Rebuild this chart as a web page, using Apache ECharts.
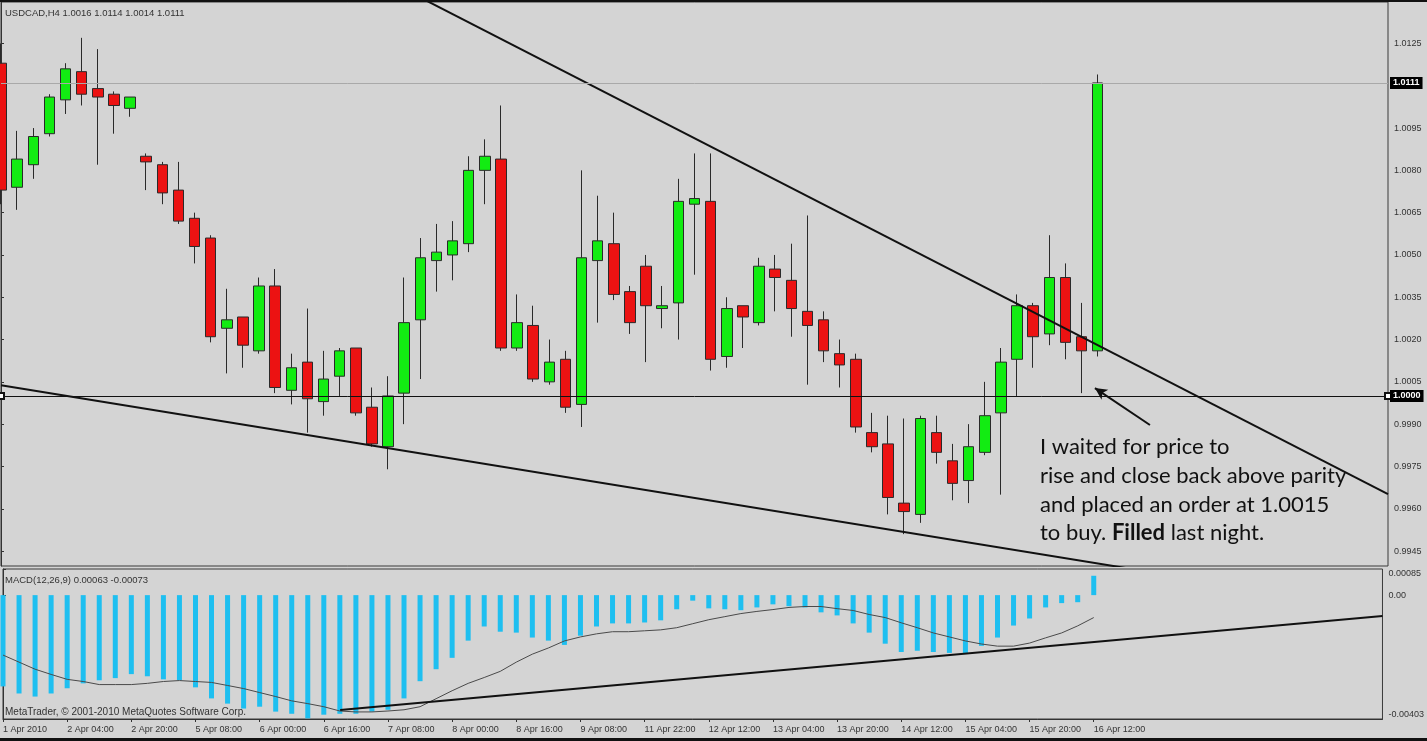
<!DOCTYPE html>
<html><head><meta charset="utf-8">
<script src="https://cdn.jsdelivr.net/npm/echarts@6/dist/echarts.min.js"></script>
<style>html,body{margin:0;padding:0;background:#d4d4d4;overflow:hidden}#c{width:1427px;height:741px;}</style>
</head><body><div id="c"></div>
<script>
// ---- data (USDCAD H4) ----
const times = ['1 Apr 2010','1 Apr 16:00','1 Apr 20:00','2 Apr 00:00','2 Apr 04:00','2 Apr 08:00','2 Apr 12:00','2 Apr 16:00','2 Apr 20:00',
 '4 Apr 20:00','5 Apr 00:00','5 Apr 04:00','5 Apr 08:00','5 Apr 12:00','5 Apr 16:00','5 Apr 20:00',
 '6 Apr 00:00','6 Apr 04:00','6 Apr 08:00','6 Apr 12:00','6 Apr 16:00','6 Apr 20:00',
 '7 Apr 00:00','7 Apr 04:00','7 Apr 08:00','7 Apr 12:00','7 Apr 16:00','7 Apr 20:00',
 '8 Apr 00:00','8 Apr 04:00','8 Apr 08:00','8 Apr 12:00','8 Apr 16:00','8 Apr 20:00',
 '9 Apr 00:00','9 Apr 04:00','9 Apr 08:00','9 Apr 12:00','9 Apr 16:00','9 Apr 20:00',
 '11 Apr 22:00','12 Apr 00:00','12 Apr 04:00','12 Apr 08:00','12 Apr 12:00','12 Apr 16:00','12 Apr 20:00',
 '13 Apr 00:00','13 Apr 04:00','13 Apr 08:00','13 Apr 12:00','13 Apr 16:00','13 Apr 20:00',
 '14 Apr 00:00','14 Apr 04:00','14 Apr 08:00','14 Apr 12:00','14 Apr 16:00','14 Apr 20:00',
 '15 Apr 00:00','15 Apr 04:00','15 Apr 08:00','15 Apr 12:00','15 Apr 16:00','15 Apr 20:00',
 '16 Apr 00:00','16 Apr 04:00','16 Apr 08:00','16 Apr 12:00'];
const opens = [1.0118,1.0074,1.0082,1.0093,1.0105,1.0115,1.0109,1.0107,1.0102,1.0085,
 1.0082,1.0073,1.0063,1.0056,1.0024,1.0028,1.0016,1.0039,1.0002,1.0012,
 0.9998,1.0007,1.0017,0.9996,0.9982,1.0001,1.0027,1.0048,1.0050,1.0054,
 1.0080,1.0084,1.0017,1.0025,1.0005,1.0013,0.9997,1.0048,1.0054,1.0037,
 1.0046,1.0031,1.0033,1.0068,1.0069,1.0014,1.0032,1.0026,1.0045,1.0041,
 1.0030,1.0027,1.0015,1.0013,0.9987,0.9983,0.9962,0.9958,0.9987,0.9977,
 0.9970,0.9980,0.9994,1.0013,1.0032,1.0022,1.0042,1.0021,1.0016];
const closes = [1.0073,1.0084,1.0092,1.0106,1.0116,1.0107,1.0106,1.0103,1.0106,1.0083,
 1.0072,1.0062,1.0053,1.0021,1.0027,1.0018,1.0039,1.0003,1.0010,0.9999,
 1.0006,1.0016,0.9994,0.9983,1.0000,1.0026,1.0049,1.0051,1.0055,1.0080,
 1.0085,1.0017,1.0026,1.0006,1.0012,0.9996,1.0049,1.0055,1.0036,1.0026,
 1.0032,1.0032,1.0069,1.0070,1.0013,1.0031,1.0028,1.0046,1.0042,1.0031,
 1.0025,1.0016,1.0011,0.9989,0.9982,0.9964,0.9959,0.9992,0.9980,0.9969,
 0.9982,0.9993,1.0012,1.0032,1.0021,1.0042,1.0019,1.0016,1.0111];
const highs = [1.0125,1.0094,1.0095,1.0107,1.0118,1.0127,1.0123,1.0108,1.0106,1.0086,
 1.0083,1.0083,1.0065,1.0057,1.0038,1.0028,1.0042,1.0045,1.0015,1.0031,
 1.0016,1.0017,1.0017,1.0003,1.0007,1.0042,1.0056,1.0061,1.0062,1.0085,
 1.0091,1.0103,1.0036,1.0032,1.0020,1.0016,1.0080,1.0071,1.0065,1.0039,
 1.0050,1.0039,1.0077,1.0086,1.0086,1.0035,1.0032,1.0049,1.0050,1.0054,
 1.0064,1.0030,1.0020,1.0015,0.9994,0.9993,0.9992,0.9993,0.9993,0.9983,
 0.9990,1.0005,1.0017,1.0036,1.0033,1.0057,1.0047,1.0033,1.0114];
const lows = [1.0068,1.0066,1.0077,1.0092,1.0100,1.0103,1.0082,1.0093,1.0099,1.0073,
 1.0068,1.0061,1.0047,1.0019,1.0008,1.0010,1.0015,1.0001,0.9997,0.9987,
 0.9993,1.0000,0.9993,0.9982,0.9974,0.9990,1.0006,1.0037,1.0041,1.0051,
 1.0068,1.0016,1.0016,1.0005,1.0004,0.9994,0.9989,1.0026,1.0034,1.0022,
 1.0012,1.0024,1.0020,1.0043,1.0009,1.0010,1.0017,1.0025,1.0030,1.0021,
 1.0004,1.0012,1.0003,0.9987,0.9980,0.9958,0.9951,0.9955,0.9976,0.9963,
 0.9962,0.9979,0.9965,1.0000,1.0010,1.0018,1.0013,1.0001,1.0014];
const macdMain = [-0.00297,-0.00320,-0.00330,-0.00320,-0.00303,-0.00287,-0.00277,-0.00270,-0.00257,-0.00264,
 -0.00274,-0.00277,-0.00300,-0.00336,-0.00353,-0.00369,-0.00363,-0.00379,-0.00386,-0.00401,
 -0.00389,-0.00386,-0.00386,-0.00379,-0.00373,-0.00336,-0.00280,-0.00241,-0.00204,-0.00148,
 -0.00102,-0.00119,-0.00122,-0.00138,-0.00148,-0.00162,-0.00132,-0.00102,-0.00092,-0.00092,
 -0.00089,-0.00082,-0.00046,-0.00018,-0.00043,-0.00046,-0.00049,-0.00040,-0.00030,-0.00036,
 -0.00040,-0.00056,-0.00066,-0.00092,-0.00122,-0.00158,-0.00185,-0.00181,-0.00185,-0.00188,
 -0.00188,-0.00165,-0.00138,-0.00099,-0.00076,-0.00040,-0.00026,-0.00023,0.00063];
const macdSignal = [-0.00195,-0.00218,-0.00241,-0.00258,-0.00274,-0.00281,-0.00291,-0.00291,-0.00291,-0.00287,
 -0.00281,-0.00278,-0.00281,-0.00284,-0.00294,-0.00304,-0.00317,-0.00330,-0.00344,-0.00353,
 -0.00363,-0.00377,-0.00380,-0.00380,-0.00377,-0.00373,-0.00363,-0.00337,-0.00311,-0.00287,
 -0.00268,-0.00248,-0.00218,-0.00192,-0.00172,-0.00149,-0.00136,-0.00126,-0.00119,-0.00119,
 -0.00116,-0.00113,-0.00106,-0.00093,-0.00080,-0.00070,-0.00060,-0.00053,-0.00047,-0.00040,
 -0.00037,-0.00037,-0.00044,-0.00050,-0.00063,-0.00073,-0.00090,-0.00106,-0.00123,-0.00136,
 -0.00149,-0.00159,-0.00166,-0.00166,-0.00156,-0.00139,-0.00123,-0.00100,-0.00073];
const priceTicks = [0.9945,0.9960,0.9975,0.9990,1.0005,1.0020,1.0035,1.0050,1.0065,1.0080,1.0095,1.0125];
const macdTicks = [-0.00403,0,0.00085];
const parityLevel = 1.0000;
const bidLevel = 1.0111;
const upperTrend = [[26.3,1.01404],[86,0.99652]];
const lowerTrend = [[0,1.00038],[71.23,0.99376]];
const macdTrend = [[21.02,-0.00374],[86,-0.00068]];
const arrowFrom = [71.24,0.99897];
const arrowTo = [67.83,1.00028];
const noteLines = ['I waited for price to','rise and close back above parity','and placed an order at 1.0015'];
const noteLast = ['to buy. ','Filled',' last night.'];
const slotCount = 87;

// ---- build ----
const n = times.length;
const cats = times.concat(new Array(slotCount - n).fill(''));
const candles = opens.map((o,i)=>[o, closes[i], lows[i], highs[i]]);
const last = n - 1;
const headText = 'USDCAD,H4 ' + opens[last].toFixed(4) + ' ' + highs[last].toFixed(4) + ' ' + lows[last].toFixed(4) + ' ' + closes[last].toFixed(4);
const macdText = 'MACD(12,26,9) ' + macdMain[last].toFixed(5) + ' ' + macdSignal[last].toFixed(5);
const showIdx = (i)=> i % 4 === 0 && i < n;
const AX = '#333';
const SF = 'Liberation Sans';
const NOTE_SIZE = 22;
const NOTE_FONT = NOTE_SIZE + 'px Lato';

const chart = echarts.init(document.getElementById('c'), null, {renderer:'canvas'});
const blackLabel = (txt)=>({show:true, position:'end', distance:2, formatter:txt, color:'#fff', backgroundColor:'#000',
  padding:[2,3,1,3], fontSize:9, fontFamily:SF, fontWeight:'bold'});

chart.setOption({
  animation:false,
  backgroundColor:'#d4d4d4',
  grid:[
    {left:1, right:39, top:2, height:564, show:true, backgroundColor:'#d4d4d4', borderColor:'#3a3a3a', borderWidth:1},
    {left:1, right:39, top:569, height:150, show:true, backgroundColor:'#d4d4d4', borderColor:'#3a3a3a', borderWidth:1}
  ],
  xAxis:[
    {type:'category', gridIndex:0, data:cats, boundaryGap:false, show:false},
    {type:'value', gridIndex:0, min:0, max:slotCount-1, show:false},
    {type:'category', gridIndex:1, data:cats, boundaryGap:false,
      axisLine:{show:true, onZero:false, lineStyle:{color:AX}},
      axisTick:{show:true, interval:showIdx, length:3, lineStyle:{color:AX}},
      axisLabel:{show:true, interval:showIdx, align:'left', margin:6, fontSize:9, fontFamily:SF, color:AX},
      splitLine:{show:false}},
    {type:'value', gridIndex:1, min:0, max:slotCount-1, show:false}
  ],
  yAxis:[
    {type:'value', gridIndex:0, position:'right', min:0.99397, max:1.01397,
      axisLine:{show:true, lineStyle:{color:AX}},
      axisTick:{show:true, customValues:priceTicks, length:3, lineStyle:{color:AX}},
      axisLabel:{show:true, customValues:priceTicks, formatter:(v)=>v.toFixed(4), margin:6, fontSize:9, fontFamily:SF, color:AX},
      splitLine:{show:false}},
    {type:'value', gridIndex:1, position:'right', min:-0.00403, max:0.00085,
      axisLine:{show:true, lineStyle:{color:AX}},
      axisTick:{show:true, customValues:macdTicks, length:3, lineStyle:{color:AX}},
      axisLabel:{show:true, customValues:macdTicks, formatter:(v)=> v===0 ? '0.00' : v.toFixed(5),
        verticalAlignMinLabel:'bottom', verticalAlignMaxLabel:'top',
        margin:6, fontSize:9, fontFamily:SF, color:AX},
      splitLine:{show:false}}
  ],
  series:[
    {type:'candlestick', name:'USDCAD', xAxisIndex:0, yAxisIndex:0, data:candles, barWidth:11, clip:false, z:3,
      itemStyle:{color:'#12ec12', color0:'#ec1212', borderColor:'#2a2a2a', borderColor0:'#2a2a2a', borderWidth:1},
      markLine:{silent:true, precision:6, symbol:['emptyRect','emptyRect'], symbolSize:6, animation:false,
        lineStyle:{color:'#111', width:1, type:'solid'},
        data:[{yAxis:parityLevel, label:blackLabel(parityLevel.toFixed(4))}]}},
    {type:'line', name:'bid', xAxisIndex:1, yAxisIndex:0, data:[], symbol:'none', clip:false, z:2,
      markLine:{silent:true, precision:6, symbol:['none','none'], animation:false,
        lineStyle:{color:'#a9a9a9', width:1, type:'solid'},
        data:[{yAxis:bidLevel, label:blackLabel(bidLevel.toFixed(4))}]}},
    {type:'line', name:'upper trend', xAxisIndex:1, yAxisIndex:0, data:upperTrend, symbol:'none', clip:true, z:4,
      lineStyle:{color:'#111', width:2}},
    {type:'line', name:'lower trend', xAxisIndex:1, yAxisIndex:0, data:lowerTrend, symbol:'none', clip:true, z:4,
      lineStyle:{color:'#111', width:2},
      markLine:{silent:true, precision:6, symbol:['none','arrow'], symbolSize:[9,12], animation:false,
        lineStyle:{color:'#111', width:2, type:'solid'}, label:{show:false},
        data:[[{coord:arrowFrom},{coord:arrowTo}]]}},
    {type:'bar', name:'MACD', xAxisIndex:2, yAxisIndex:1, data:macdMain, barWidth:5, z:2,
      itemStyle:{color:'#1ebff0'}},
    {type:'line', name:'Signal', xAxisIndex:2, yAxisIndex:1, data:macdSignal, symbol:'none', z:3,
      lineStyle:{color:'#4a4a4a', width:1}},
    {type:'line', name:'MACD trend', xAxisIndex:3, yAxisIndex:1, data:macdTrend, symbol:'none', clip:true, z:4,
      lineStyle:{color:'#111', width:2}}
  ],
  graphic:[
    {type:'text', x:5, y:13, z:10, style:{text:headText, font:'9.5px '+SF, fill:'#333', verticalAlign:'middle'}},
    {type:'text', x:5, y:580, z:10, style:{text:macdText, font:'9.5px '+SF, fill:'#333', verticalAlign:'middle'}},
    {type:'text', x:5, y:712, z:10, style:{text:'MetaTrader, \u00a9 2001-2010 MetaQuotes Software Corp.', font:'10px '+SF, fill:'#333', verticalAlign:'middle'}},
    {type:'text', x:1040, y:447, z:10, style:{text:noteLines[0], font:NOTE_FONT, fill:'#111', verticalAlign:'middle'}},
    {type:'text', x:1040, y:476, z:10, style:{text:noteLines[1], font:NOTE_FONT, fill:'#111', verticalAlign:'middle'}},
    {type:'text', x:1040, y:505, z:10, style:{text:noteLines[2], font:NOTE_FONT, fill:'#111', verticalAlign:'middle'}},
    {type:'text', x:1040, y:533, z:10, style:{text:noteLast[0]+'{b|'+noteLast[1]+'}'+noteLast[2], font:NOTE_FONT, fill:'#111', verticalAlign:'middle',
      rich:{b:{fontFamily:'Lato', fontSize:NOTE_SIZE, fontWeight:'bold', fill:'#111'}}}},
    {type:'rect', z:20, shape:{x:0, y:0, width:1427, height:2}, style:{fill:'#111'}},
    {type:'rect', z:20, shape:{x:0, y:738, width:1427, height:3}, style:{fill:'#111'}}
  ]
});
</script></body></html>
